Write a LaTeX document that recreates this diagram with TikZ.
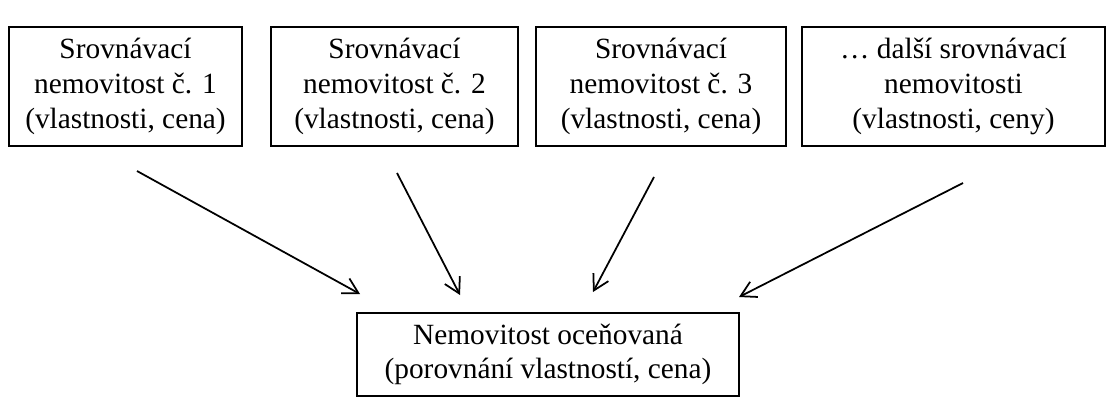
\documentclass[tikz,border=0pt]{standalone}
\usepackage{fontspec}
\setmainfont{Liberation Serif}
\usepackage{tikz}
\usetikzlibrary{positioning,arrows.meta}
\tikzset{box/.style={draw, line width=1pt, align=center, inner sep=0pt,
    minimum height=2.38cm, font=\fontsize{16.7}{19.8}\selectfont},
  arr/.style={-{Straight Barb[length=3mm,width=3.4mm]}, line width=1pt}}

\begin{document}
\begin{tikzpicture}
      \useasboundingbox (0,0) rectangle (22.18,-7.94);
      \node[box, minimum width=4.66cm] (S1) at (2.51,-1.73) {Srovnávací\\nemovitost č. 1\\(vlastnosti, cena)};
      \node[box, minimum width=4.94cm] (S2) at (7.89,-1.73) {Srovnávací\\nemovitost č. 2\\(vlastnosti, cena)};
      \node[box, minimum width=5.00cm] (S3) at (13.22,-1.73) {Srovnávací\\nemovitost č. 3\\(vlastnosti, cena)};
      \node[box, minimum width=6.06cm] (S4) at (19.07,-1.73) {… další srovnávací\\nemovitosti\\(vlastnosti, ceny)};
      \node[box, minimum width=7.64cm, minimum height=1.66cm] (N) at (10.96,-7.09) {Nemovitost oceňovaná\\(porovnání vlastností, cena)};

      \coordinate (a1) at (2.74,-3.42);  \coordinate (b1) at (7.20,-5.88);
      \coordinate (a2) at (7.94,-3.46);  \coordinate (b2) at (9.20,-5.90);
      \coordinate (a3) at (13.08,-3.54); \coordinate (b3) at (11.86,-5.84);
      \coordinate (a4) at (19.26,-3.66); \coordinate (b4) at (14.78,-5.94);

      \draw[arr] (a1) -- (b1);
      \draw[arr] (a2) -- (b2);
      \draw[arr] (a3) -- (b3);
      \draw[arr] (a4) -- (b4);
    \end{tikzpicture}
\end{document}
